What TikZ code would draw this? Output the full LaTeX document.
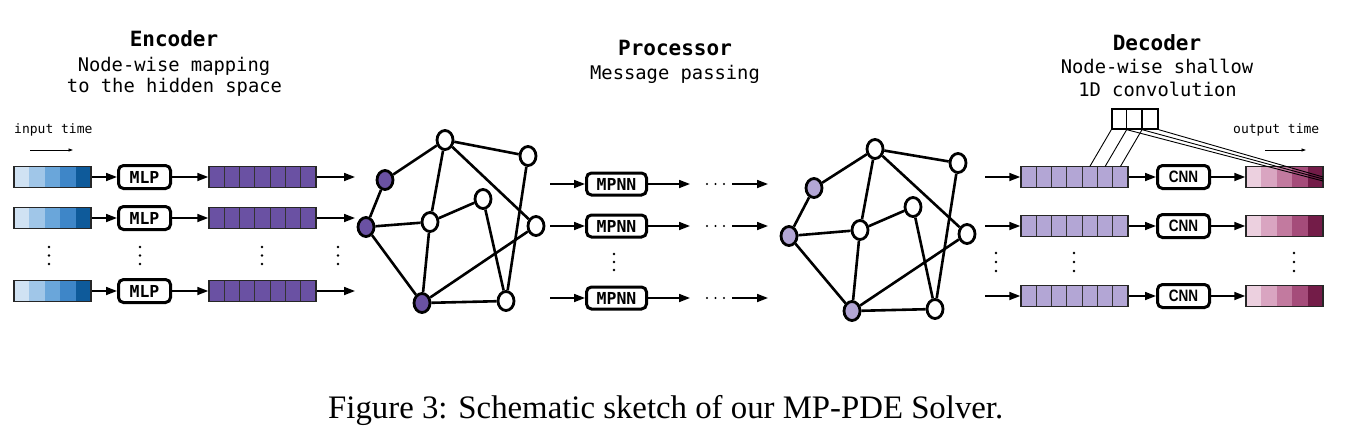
\documentclass[tikz,border=0pt]{standalone}
\usepackage{fontspec}
\usepackage{graphicx}
\setmainfont{Liberation Serif}
\newfontfamily\monof{DejaVu Sans Mono}
\newfontfamily\cnnf{Liberation Sans}
\usetikzlibrary{arrows.meta,shapes.geometric,calc}
\definecolor{bA}{HTML}{D0E2F3}
\definecolor{bB}{HTML}{A0C6E8}
\definecolor{bC}{HTML}{6AA6DA}
\definecolor{bD}{HTML}{3E86C8}
\definecolor{bE}{HTML}{0E5A9A}
\definecolor{pA}{HTML}{ECD0DF}
\definecolor{pB}{HTML}{D9A5C1}
\definecolor{pC}{HTML}{C27A9F}
\definecolor{pD}{HTML}{A54C7A}
\definecolor{pE}{HTML}{731C48}
\definecolor{hidP}{HTML}{6A51A3}
\definecolor{lavP}{HTML}{B3A6D5}
\tikzset{
 arr/.style={line width=1.7pt,-{Triangle[length=11pt,width=8pt]}},
 tarr/.style={line width=0.8pt,-{Triangle[length=4.5pt,width=3pt]}},
 procbox/.style={draw,line width=3pt,rounded corners=5pt,fill=white,inner sep=0pt},
 monolab/.style={font=\monof\bfseries\fontsize{16.5}{16.5}\selectfont},
 gn/.style={ellipse,draw,line width=2.8pt,fill=white,minimum width=16pt,minimum height=19pt,inner sep=0pt},
 ge/.style={line width=2.6pt},
 barout/.style={draw=black!85,line width=1.5pt,minimum height=21pt,inner sep=0pt},
 sep/.style={draw=black!80,line width=1pt},
 vdot/.style={circle,fill=black,inner sep=0pt,minimum size=2.8pt},
 ttl/.style={anchor=base,font=\monof\bfseries\fontsize{21}{21}\selectfont},
 sub/.style={anchor=base,font=\monof\fontsize{18.8}{18.8}\selectfont},
 small/.style={anchor=base west,inner sep=0pt,font=\monof\fontsize{13}{13}\selectfont},
}
% five-cell bar: name, left x, centre y, colour prefix
\newcommand\fivebar[4]{%
  \foreach \cc [count=\i from 0] in {#4A,#4B,#4C,#4D,#4E}{\fill[\cc] (#2+15.4*\i,#3-10.5) rectangle ++(15.4,21);}
  \node[barout,minimum width=77pt] (#1) at (#2+38.5,#3) {};
}
% seven-cell bar: name, left x, centre y, colour
\newcommand\sevenbar[4]{%
  \fill[#4] (#2,#3-10.5) rectangle ++(107,21);
  \foreach \i in {1,...,6}{\draw[sep] (#2+15.286*\i,#3-10.5) -- ++(0,21);}
  \node[barout,minimum width=107pt] (#1) at (#2+53.5,#3) {};
}
\begin{document}
\begin{tikzpicture}[x=1pt,y=-1pt]
\useasboundingbox (0,0) rectangle (1346,442);
\fill[white] (0,0) rectangle (1346,442);

% ---------- titles ----------
\node[ttl] (enct) at (174,46.5) {Encoder};
\node[sub] (encs1) at (174,71.5) {Node-wise mapping};
\node[sub] (encs2) at (174.5,92.5) {to the hidden space};
\node[ttl] (proct) at (675,55) {Processor};
\node[sub] (procs) at (675,79) {Message passing};
\node[ttl] (dect) at (1157,50) {Decoder};
\node[sub] (decs1) at (1157,73) {Node-wise shallow};
\node[sub] (decs2) at (1157.5,96) {1D convolution};

\node[small] (inlab) at (14,133) {input time};
\coordinate (ita) at (30,150); \coordinate (itb) at (73,150);
\draw[tarr] (ita) -- (itb);
\node[small] (outlab) at (1233,133) {output time};
\coordinate (ota) at (1265,150); \coordinate (otb) at (1306,150);
\draw[tarr] (ota) -- (otb);

% ---------- encoder ----------
\foreach \r/\y in {1/177,2/218,3/291}{
  \fivebar{in\r}{14}{\y}{b}
  \node[procbox,minimum width=52pt,minimum height=23pt,monolab] (mlp\r) at (144.5,\y) {MLP};
  \sevenbar{h\r}{209}{\y}{hidP}
  \coordinate (e\r) at (355,\y);
  \draw[arr] (in\r.east) -- (mlp\r.west);
  \draw[arr] (mlp\r.east) -- (h\r.west);
  \draw[arr] (h\r.east) -- (e\r);
}
\foreach \x in {49,140,262,338}{
  \foreach \y in {247,255.5,264}{\node[vdot] at (\x,\y) {};}
}

% ---------- graph 1 ----------
\node[gn,fill=hidP] (gA) at (385,180) {};
\node[gn,fill=hidP] (gB) at (366,227) {};
\node[gn,fill=hidP] (gC) at (422,303) {};
\node[gn] (gD) at (445,140) {};
\node[gn] (gE) at (528,156) {};
\node[gn] (gF) at (430,222) {};
\node[gn] (gG) at (483,199) {};
\node[gn] (gH) at (536,226) {};
\node[gn] (gI) at (506,301) {};
\foreach \a/\b in {A/D,A/B,B/F,B/C,D/F,D/E,D/H,F/G,F/C,G/I,E/I,C/H,C/I}{
  \draw[ge] (g\a) -- (g\b);
}

% ---------- processor ----------
\foreach \r/\y in {1/184,2/226,3/298}{
  \coordinate (ps\r) at (550,\y);
  \node[procbox,minimum width=60pt,minimum height=22pt,monolab] (m\r) at (616.5,\y) {MPNN};
  \coordinate (pa\r) at (690,\y);
  \coordinate (pb\r) at (732,\y);
  \coordinate (pe\r) at (768,\y);
  \draw[arr] (ps\r) -- (m\r.west);
  \draw[arr] (m\r.east) -- (pa\r);
  \draw[arr] (pb\r) -- (pe\r);
  \foreach \x in {707,715.5,724}{\node[vdot,minimum size=2.4pt] at (\x,\y) {};}
}
\foreach \y in {254,262,270}{\node[vdot] at (614,\y) {};}

% ---------- graph 2 ----------
\node[gn,fill=lavP] (hA) at (814,188) {};
\node[gn,fill=lavP] (hB) at (789,236) {};
\node[gn,fill=lavP] (hC) at (852,311) {};
\node[gn] (hD) at (875,149) {};
\node[gn] (hE) at (958,163) {};
\node[gn] (hF) at (860,230) {};
\node[gn] (hG) at (913,207) {};
\node[gn] (hH) at (967,234) {};
\node[gn] (hI) at (935,309) {};
\foreach \a/\b in {A/D,A/B,B/F,B/C,D/F,D/E,D/H,F/G,F/C,G/I,E/I,C/H,C/I}{
  \draw[ge] (h\a) -- (h\b);
}

% ---------- decoder ----------
\foreach \r/\y in {1/177,2/226,3/296}{
  \coordinate (ds\r) at (985,\y);
  \sevenbar{d\r}{1021}{\y}{lavP}
  \node[procbox,minimum width=52pt,minimum height=23pt,font=\cnnf\bfseries\fontsize{16.5}{16.5}\selectfont] (c\r) at (1183.5,\y) {\scalebox{0.82}[1]{CNN}};
  \fivebar{o\r}{1246}{\y}{p}
  \draw[arr] (ds\r) -- (d\r.west);
  \draw[arr] (d\r.east) -- (c\r.west);
  \draw[arr] (c\r.east) -- (o\r.west);
}
\foreach \x in {996,1074,1294}{
  \foreach \y in {253,262,271}{\node[vdot] at (\x,\y) {};}
}

% kernel
\node[draw,line width=1.3pt,minimum width=46pt,minimum height=20pt,inner sep=0pt] (ker) at (1135,119) {};
\draw[line width=1.1pt] ($(ker.south west)+(15.33,0)$) -- ($(ker.north west)+(15.33,0)$);
\draw[line width=1.1pt] ($(ker.south west)+(30.67,0)$) -- ($(ker.north west)+(30.67,0)$);
\coordinate (k1) at (1089.8,166.5);
\coordinate (k2) at (1105.1,166.5);
\coordinate (k3) at (1120.4,166.5);
\coordinate (q1) at (1323,181);
\coordinate (q2) at (1323,179);
\coordinate (q3) at (1323,177);
\draw[line width=0.9pt] (ker.south west) -- (k1);
\draw[line width=0.9pt] ($(ker.south west)+(15.33,0)$) -- (k2);
\draw[line width=0.9pt] ($(ker.south west)+(30.67,0)$) -- (k3);
\draw[line width=0.9pt] ($(ker.south west)+(15.33,0)$) -- (q1);
\draw[line width=0.9pt] ($(ker.south west)+(30.67,0)$) -- (q2);
\draw[line width=0.9pt] (ker.south east) -- (q3);

% ---------- caption ----------
\node[anchor=base west,inner sep=0pt,font=\fontsize{32.8}{32.8}\selectfont] (cap) at (328,418) {Figure 3: Schematic sketch of our MP-PDE Solver.};
\end{tikzpicture}
\end{document}
